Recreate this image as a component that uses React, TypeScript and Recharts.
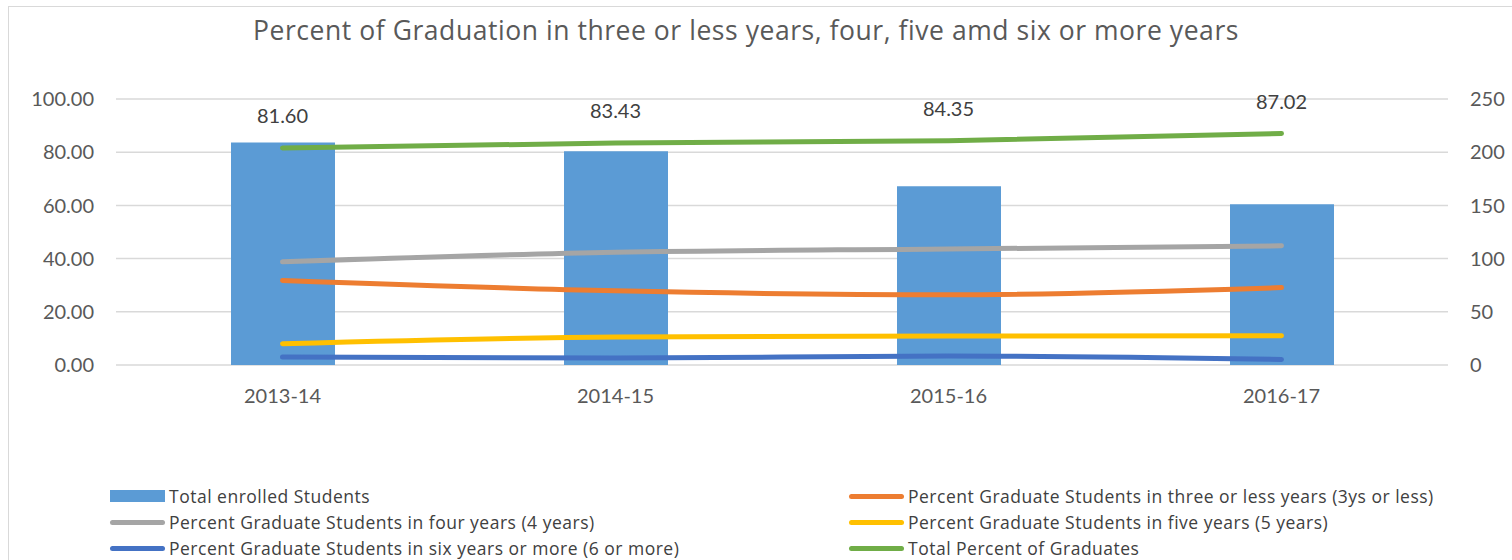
import { ComposedChart, Bar, Line, XAxis, YAxis, CartesianGrid, LabelList } from 'recharts';

const years = ['2013-14', '2014-15', '2015-16', '2016-17'];
const totalEnrolled = [209, 201, 168, 151];
const threeOrLess = [31.8, 27.9, 26.4, 29.1];
const fourYears = [38.8, 42.4, 43.6, 44.8];
const fiveYears = [8.0, 10.5, 10.9, 11.0];
const sixOrMore = [3.0, 2.6, 3.4, 2.1];
const totalPercent = [81.6, 83.43, 84.35, 87.02];

const leftTicks = [0, 20, 40, 60, 80, 100];
const rightTicks = [0, 50, 100, 150, 200, 250];

const data = years.map((year, i) => ({
  year,
  enrolled: totalEnrolled[i],
  three: threeOrLess[i],
  four: fourYears[i],
  five: fiveYears[i],
  six: sixOrMore[i],
  total: totalPercent[i],
}));

// legend entries, laid out in two columns like the original
const legendItems = [
  { name: 'Total enrolled Students', color: '#5B9BD5', bar: true },
  { name: 'Percent Graduate Students in three or less years (3ys or less)', color: '#ED7D31' },
  { name: 'Percent Graduate Students in four years (4 years)', color: '#A5A5A5' },
  { name: 'Percent Graduate Students in five years (5 years)', color: '#FFC000' },
  { name: 'Percent Graduate Students in six years or more (6 or more)', color: '#4472C4' },
  { name: 'Total Percent of Graduates', color: '#70AD47' },
];

const font = 'Lato, "Open Sans", sans-serif';
const wideFont = '"Open Sans", Lato, sans-serif';
const tickStyle = { fill: '#595959', fontSize: 20, fontFamily: font };

export default function App() {
  return (
    <div style={{ position: 'absolute', left: 0, top: 0, width: 1512, height: 560, overflow: 'hidden', background: '#fff', fontFamily: font }}>
      <div style={{ position: 'absolute', left: 8, top: 6, width: 1520, height: 580, borderLeft: '1.5px solid #d9d9d9', borderTop: '1.5px solid #d9d9d9' }} />
      <div style={{ position: 'absolute', left: 0, width: 1492, top: 14, textAlign: 'center', fontSize: 26.5, letterSpacing: 0.55, color: '#595959', lineHeight: '33px', fontFamily: wideFont }}>
        Percent of Graduation in three or less years, four, five amd six or more years
      </div>
      <div style={{ position: 'absolute', left: 8, top: 6 }}>
        <ComposedChart width={1504} height={554} data={data} margin={{ top: 93, right: 8, bottom: 165, left: 8 }}>
          <CartesianGrid yAxisId="left" vertical={false} stroke="#d9d9d9" strokeWidth={1.5} />
          <XAxis dataKey="year" axisLine={false} tickLine={false} tickSize={0} tickMargin={24} height={30} tick={tickStyle} />
          <YAxis yAxisId="left" domain={[0, 100]} ticks={leftTicks} tickFormatter={(v) => v.toFixed(2)} axisLine={false} tickLine={false} tickSize={0} tickMargin={22} width={100} tick={tickStyle} />
          <YAxis yAxisId="right" orientation="right" domain={[0, 250]} ticks={rightTicks} axisLine={false} tickLine={false} tickSize={0} tickMargin={22} width={56} tick={{ ...tickStyle, textAnchor: 'start' }} />
          <Bar yAxisId="right" dataKey="enrolled" fill="#5B9BD5" barSize={104} isAnimationActive={false} />
          <Line yAxisId="left" type="monotone" dataKey="three" stroke="#ED7D31" strokeWidth={5} strokeLinecap="round" dot={false} isAnimationActive={false} />
          <Line yAxisId="left" type="monotone" dataKey="four" stroke="#A5A5A5" strokeWidth={5} strokeLinecap="round" dot={false} isAnimationActive={false} />
          <Line yAxisId="left" type="monotone" dataKey="five" stroke="#FFC000" strokeWidth={5} strokeLinecap="round" dot={false} isAnimationActive={false} />
          <Line yAxisId="left" type="monotone" dataKey="six" stroke="#4472C4" strokeWidth={5} strokeLinecap="round" dot={false} isAnimationActive={false} />
          <Line yAxisId="left" type="monotone" dataKey="total" stroke="#70AD47" strokeWidth={5} strokeLinecap="round" dot={false} isAnimationActive={false}>
            <LabelList dataKey="total" position="top" offset={25} formatter={(v: any) => Number(v).toFixed(2)} style={{ fill: '#404040', fontSize: 20, fontFamily: font }} />
          </Line>
        </ComposedChart>
      </div>
      {legendItems.map((item, i) => {
        const col = i % 2;
        const row = Math.floor(i / 2);
        return (
          <div key={item.name} style={{ position: 'absolute', left: col === 0 ? 110 : 849, top: 496 + row * 26 - 11, height: 22, lineHeight: '22px', display: 'flex', alignItems: 'center', fontSize: 17.5, letterSpacing: 0.5, color: '#404040', whiteSpace: 'nowrap', fontFamily: wideFont }}>
            {item.bar ? (
              <span style={{ display: 'inline-block', width: 55, height: 12, background: item.color }} />
            ) : (
              <span style={{ display: 'inline-block', width: 55, height: 5, borderRadius: 3, background: item.color }} />
            )}
            <span style={{ marginLeft: 4 }}>{item.name}</span>
          </div>
        );
      })}
    </div>
  );
}
